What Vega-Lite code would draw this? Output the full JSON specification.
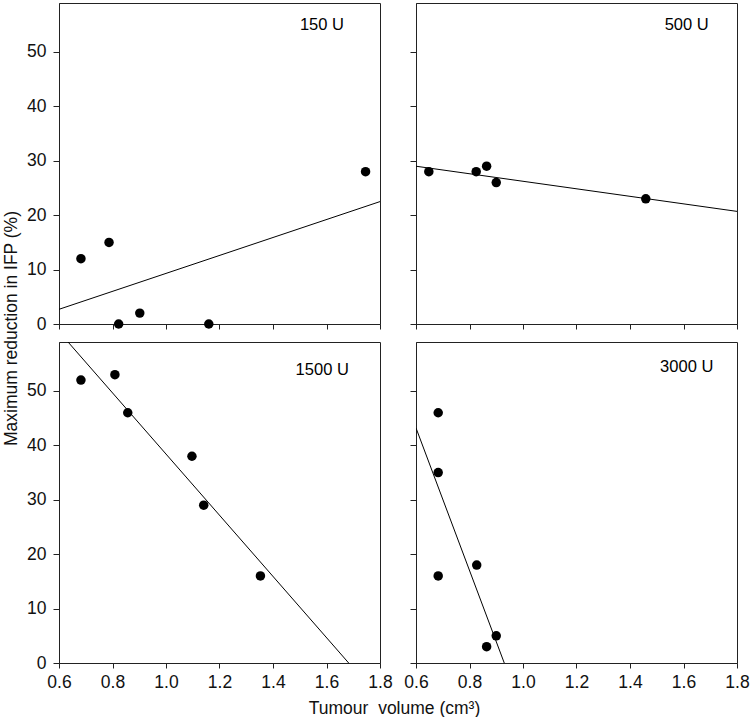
{
  "$schema": "https://vega.github.io/schema/vega-lite/v6.json",
  "padding": {"left": 1, "top": 2, "right": 5, "bottom": 0},
  "background": "white",
  "config": {
    "view": {"stroke": "#222", "strokeWidth": 1},
    "axis": {
      "grid": false,
      "labelFlush": false,
      "domainColor": "#222",
      "tickColor": "#222",
      "tickSize": 5,
      "labelFont": "Liberation Sans",
      "labelFontSize": 17.5,
      "labelColor": "#111",
      "titleFont": "Liberation Sans",
      "titleFontSize": 17.5,
      "titleFontWeight": "normal",
      "titleColor": "#111"
    },
    "axisX": {"labelPadding": 5, "tickSize": 5},
    "axisY": {"labelPadding": 7, "tickSize": 6}
  },
  "datasets": {
    "points": [
      {"dose": "150 U", "volume": 0.682, "reduction": 12},
      {"dose": "150 U", "volume": 0.787, "reduction": 15},
      {"dose": "150 U", "volume": 0.823, "reduction": 0},
      {"dose": "150 U", "volume": 0.902, "reduction": 2},
      {"dose": "150 U", "volume": 1.16, "reduction": 0},
      {"dose": "150 U", "volume": 1.746, "reduction": 28},
      {"dose": "500 U", "volume": 0.648, "reduction": 28},
      {"dose": "500 U", "volume": 0.825, "reduction": 28},
      {"dose": "500 U", "volume": 0.864, "reduction": 29},
      {"dose": "500 U", "volume": 0.9, "reduction": 26},
      {"dose": "500 U", "volume": 1.459, "reduction": 23},
      {"dose": "1500 U", "volume": 0.682, "reduction": 52},
      {"dose": "1500 U", "volume": 0.809, "reduction": 53},
      {"dose": "1500 U", "volume": 0.857, "reduction": 46},
      {"dose": "1500 U", "volume": 1.097, "reduction": 38},
      {"dose": "1500 U", "volume": 1.141, "reduction": 29},
      {"dose": "1500 U", "volume": 1.353, "reduction": 16},
      {"dose": "3000 U", "volume": 0.683, "reduction": 46},
      {"dose": "3000 U", "volume": 0.683, "reduction": 35},
      {"dose": "3000 U", "volume": 0.683, "reduction": 16},
      {"dose": "3000 U", "volume": 0.827, "reduction": 18},
      {"dose": "3000 U", "volume": 0.864, "reduction": 3},
      {"dose": "3000 U", "volume": 0.9, "reduction": 5}
    ],
    "fits": [
      {"dose": "150 U", "volume": 0.6, "reduction": 2.7},
      {"dose": "150 U", "volume": 1.8, "reduction": 22.5},
      {"dose": "500 U", "volume": 0.6, "reduction": 29.0},
      {"dose": "500 U", "volume": 1.8, "reduction": 20.7},
      {"dose": "1500 U", "volume": 0.6, "reduction": 60.9},
      {"dose": "1500 U", "volume": 1.683, "reduction": 0},
      {"dose": "3000 U", "volume": 0.6, "reduction": 43.2},
      {"dose": "3000 U", "volume": 0.93, "reduction": 0}
    ],
    "labels": [
      {"dose": "150 U", "volume": 1.583, "reduction": 54},
      {"dose": "500 U", "volume": 1.612, "reduction": 54},
      {"dose": "1500 U", "volume": 1.584, "reduction": 53},
      {"dose": "3000 U", "volume": 1.612, "reduction": 53.4}
    ]
  },
  "bounds": "flush",
  "columns": 2,
  "spacing": {"row": 18, "column": 36},
  "concat": [
    {
      "width": 321, "height": 321,
      "encoding": {
        "x": {"field": "volume", "type": "quantitative", "title": null, "scale": {"domain": [0.6, 1.8], "zero": false, "nice": false}, "axis": {"values": [0.6, 0.8, 1.0, 1.2, 1.4, 1.6, 1.8], "labels": false}},
        "y": {"field": "reduction", "type": "quantitative", "title": "Maximum reduction in IFP (%)", "scale": {"domain": [0, 59], "nice": false}, "axis": {"values": [0, 10, 20, 30, 40, 50], "titleX": -43, "titleY": 325, "titleBaseline": "alphabetic", "titleAlign": "center", "titleAngle": -90}}
      },
      "layer": [
        {
          "data": {"name": "points"},
          "transform": [{"filter": "datum.dose === '150 U'"}],
          "mark": {"type": "point", "filled": true, "size": 90, "color": "black", "opacity": 1}
        },
        {
          "data": {"name": "fits"},
          "transform": [{"filter": "datum.dose === '150 U'"}],
          "mark": {"type": "line", "color": "black", "strokeWidth": 1, "clip": true}
        },
        {
          "data": {"name": "labels"},
          "transform": [{"filter": "datum.dose === '150 U'"}],
          "mark": {"type": "text", "font": "Liberation Sans", "fontSize": 16.5, "align": "center", "baseline": "alphabetic", "color": "black"},
          "encoding": {"text": {"field": "dose"}}
        }
      ]
    },
    {
      "width": 321, "height": 321,
      "encoding": {
        "x": {"field": "volume", "type": "quantitative", "title": null, "scale": {"domain": [0.6, 1.8], "zero": false, "nice": false}, "axis": {"values": [0.6, 0.8, 1.0, 1.2, 1.4, 1.6, 1.8], "labels": false}},
        "y": {"field": "reduction", "type": "quantitative", "title": null, "scale": {"domain": [0, 59], "nice": false}, "axis": {"values": [0, 10, 20, 30, 40, 50], "labels": false}}
      },
      "layer": [
        {
          "data": {"name": "points"},
          "transform": [{"filter": "datum.dose === '500 U'"}],
          "mark": {"type": "point", "filled": true, "size": 90, "color": "black", "opacity": 1}
        },
        {
          "data": {"name": "fits"},
          "transform": [{"filter": "datum.dose === '500 U'"}],
          "mark": {"type": "line", "color": "black", "strokeWidth": 1, "clip": true}
        },
        {
          "data": {"name": "labels"},
          "transform": [{"filter": "datum.dose === '500 U'"}],
          "mark": {"type": "text", "font": "Liberation Sans", "fontSize": 16.5, "align": "center", "baseline": "alphabetic", "color": "black"},
          "encoding": {"text": {"field": "dose"}}
        }
      ]
    },
    {
      "width": 321, "height": 321,
      "encoding": {
        "x": {"field": "volume", "type": "quantitative", "title": "Tumour\u00a0\u00a0volume (cm³)", "scale": {"domain": [0.6, 1.8], "zero": false, "nice": false}, "axis": {"values": [0.6, 0.8, 1.0, 1.2, 1.4, 1.6, 1.8], "format": ".1f", "titleX": 335, "titleY": 50, "titleBaseline": "alphabetic", "titleAlign": "center"}},
        "y": {"field": "reduction", "type": "quantitative", "title": null, "scale": {"domain": [0, 59], "nice": false}, "axis": {"values": [0, 10, 20, 30, 40, 50]}}
      },
      "layer": [
        {
          "data": {"name": "points"},
          "transform": [{"filter": "datum.dose === '1500 U'"}],
          "mark": {"type": "point", "filled": true, "size": 90, "color": "black", "opacity": 1}
        },
        {
          "data": {"name": "fits"},
          "transform": [{"filter": "datum.dose === '1500 U'"}],
          "mark": {"type": "line", "color": "black", "strokeWidth": 1, "clip": true}
        },
        {
          "data": {"name": "labels"},
          "transform": [{"filter": "datum.dose === '1500 U'"}],
          "mark": {"type": "text", "font": "Liberation Sans", "fontSize": 16.5, "align": "center", "baseline": "alphabetic", "color": "black"},
          "encoding": {"text": {"field": "dose"}}
        }
      ]
    },
    {
      "width": 321, "height": 321,
      "encoding": {
        "x": {"field": "volume", "type": "quantitative", "title": null, "scale": {"domain": [0.6, 1.8], "zero": false, "nice": false}, "axis": {"values": [0.6, 0.8, 1.0, 1.2, 1.4, 1.6, 1.8], "format": ".1f"}},
        "y": {"field": "reduction", "type": "quantitative", "title": null, "scale": {"domain": [0, 59], "nice": false}, "axis": {"values": [0, 10, 20, 30, 40, 50], "labels": false}}
      },
      "layer": [
        {
          "data": {"name": "points"},
          "transform": [{"filter": "datum.dose === '3000 U'"}],
          "mark": {"type": "point", "filled": true, "size": 90, "color": "black", "opacity": 1}
        },
        {
          "data": {"name": "fits"},
          "transform": [{"filter": "datum.dose === '3000 U'"}],
          "mark": {"type": "line", "color": "black", "strokeWidth": 1, "clip": true}
        },
        {
          "data": {"name": "labels"},
          "transform": [{"filter": "datum.dose === '3000 U'"}],
          "mark": {"type": "text", "font": "Liberation Sans", "fontSize": 16.5, "align": "center", "baseline": "alphabetic", "color": "black"},
          "encoding": {"text": {"field": "dose"}}
        }
      ]
    }
  ]
}
